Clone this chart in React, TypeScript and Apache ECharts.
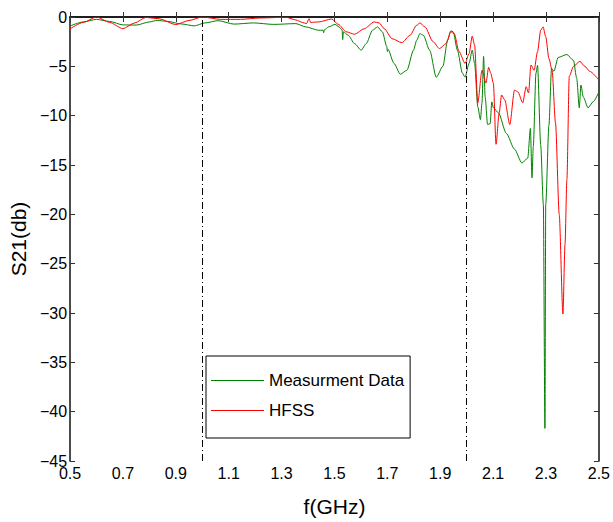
import React, { useEffect, useRef } from "react";
import * as echarts from "echarts";

const measFreq = [
  0.5, 0.55, 0.6, 0.65, 0.7, 0.75, 0.8, 0.83, 0.87, 0.92, 0.97, 1.01, 1.06, 1.12, 1.194, 1.27, 1.354, 1.391, 1.44,
  1.457, 1.459, 1.462, 1.478, 1.502, 1.517, 1.529, 1.531, 1.534, 1.552, 1.576, 1.601, 1.62, 1.644, 1.663, 1.681, 1.698,
  1.7, 1.703, 1.725, 1.749, 1.774, 1.799, 1.811, 1.823, 1.836, 1.86, 1.885, 1.91, 1.928, 1.94, 1.949, 1.965, 1.984,
  1.994, 2.009, 2.021, 2.03, 2.042, 2.052, 2.058, 2.064, 2.07, 2.079, 2.089, 2.095, 2.101, 2.12, 2.15, 2.181, 2.209,
  2.231, 2.241, 2.247, 2.252, 2.262, 2.268, 2.28, 2.29, 2.296, 2.299, 2.311, 2.321, 2.33, 2.346, 2.379, 2.404, 2.416,
  2.426, 2.432, 2.441, 2.459, 2.478, 2.5,
];
const measDb = [
  -0.91, -0.5, -0.24, -0.45, -0.8, -0.82, -0.5, -0.34, -0.45, -0.7, -0.9, -0.6, -0.37, -0.72, -0.6, -0.75, -0.67, -1.0, -1.34,
  -1.34, -1.6, -1.3, -1.0, -0.74, -1.0, -1.3, -2.3, -1.5, -1.85, -2.7, -3.36, -2.7, -1.34, -1.0, -1.5, -3.0,
  -3.5, -3.3, -4.7, -5.8, -5.4, -3.36, -2.35, -1.68, -1.85, -3.36, -6.1, -5.0, -2.35, -1.4, -1.5, -3.36, -5.7,
  -6.1, -4.7, -3.36, -4.7, -9.1, -10.4, -8.7, -4.0, -8.1, -10.9, -10.8, -8.6, -9.2, -9.7, -11.8, -13.4, -14.8,
  -14.3, -11.3, -16.3, -13.1, -5.7, -4.9, -13, -19, -41.7, -19, -11, -5.2, -5.5, -4.1, -3.8, -4.4, -6.2,
  -9.2, -6.9, -8.1, -9.2, -8.6, -7.6,
];

const hfssFreq = [
  0.5, 0.55, 0.6, 0.65, 0.7, 0.745, 0.786, 0.836, 0.9, 0.95, 1.0, 1.07, 1.144, 1.22, 1.317, 1.354, 1.379, 1.394, 1.404,
  1.41, 1.44, 1.49, 1.514, 1.545, 1.576, 1.613, 1.65, 1.669, 1.688, 1.718, 1.755, 1.786, 1.811, 1.823, 1.842, 1.873,
  1.897, 1.922, 1.94, 1.953, 1.971, 1.994, 2.009, 2.021, 2.03, 2.042, 2.058, 2.073, 2.083, 2.091, 2.101, 2.111, 2.123,
  2.132, 2.144, 2.163, 2.181, 2.194, 2.212, 2.225, 2.234, 2.243, 2.255, 2.268, 2.28, 2.289, 2.299, 2.311, 2.323, 2.336,
  2.35, 2.364, 2.372, 2.379, 2.388, 2.404, 2.428, 2.447, 2.465, 2.5,
];
const hfssDb = [
  -1.2, -0.55, 0, -0.55, -1.18, -0.6, -0.05, -0.17, -0.77, -0.35, 0, -0.24, -0.24, -0.1, -0.03, -0.3, -0.55, -0.67, -0.17,
  -0.55, -0.5, -0.2, -0.74, -1.5, -1.75, -1.18, -0.5, -0.6, -1.18, -2.2, -2.6, -1.85, -0.84, -0.6, -1.0, -2.5,
  -3.2, -2.7, -1.5, -1.68, -3.5, -4.7, -3.7, -1.95, -2.85, -8.7, -5.4, -6.7, -5.1, -5.7, -6.7, -12.9, -9.7,
  -7.9, -8.4, -10.9, -7.4, -7.6, -8.7, -7.06, -7.7, -4.87, -5.4, -3.5, -1.34, -1.0, -2.0, -4.2, -5.4, -10.75,
  -20, -30.1, -23, -16.5, -6.0, -5.0, -4.5, -5.0, -5.5, -6.4,
];

const bandEdges = [1.0, 2.0];
const seriesNames = ["Measurment Data", "HFSS"];

const FONT = "'Liberation Sans', Arial, Helvetica, sans-serif";

export default function App() {
  const ref = useRef<HTMLDivElement>(null);
  useEffect(() => {
    if (!ref.current) return;
    const chart = echarts.init(ref.current, null, { renderer: "svg" });
    const zip = (xs: number[], ys: number[]) => xs.map((x, i) => [x, ys[i]]);
    const axisLine = { show: true, lineStyle: { color: "#111", width: 1.5 } };
    const ticks = { show: true, inside: true, length: 5, lineStyle: { color: "#333", width: 1 } };
    chart.setOption({
      animation: false,
      backgroundColor: "#fff",
      textStyle: { fontFamily: FONT },
      grid: { left: 63, right: 12, top: 17, bottom: 59, containLabel: false },
      legend: {
        orient: "vertical",
        left: 206,
        top: 356,
        data: seriesNames,
        icon: "rect",
        itemWidth: 53,
        itemHeight: 1.2,
        itemGap: 13,
        padding: [16, 6, 19, 5],
        borderColor: "#000",
        borderWidth: 1,
        backgroundColor: "#fff",
        textStyle: { fontFamily: FONT, fontSize: 17, color: "#000" },
      },
      xAxis: [
        {
          type: "value",
          min: 0.5,
          max: 2.5,
          interval: 0.2,
          axisLine,
          axisTick: ticks,
          splitLine: { show: false },
          axisLabel: {
            color: "#000",
            fontSize: 16,
            fontFamily: FONT,
            margin: 4,
            formatter: (v: number) => v.toFixed(1),
          },
          name: "f(GHz)",
          nameLocation: "middle",
          nameGap: 35,
          nameTextStyle: { color: "#000", fontSize: 21, fontFamily: FONT },
        },
        {
          type: "value",
          position: "top",
          min: 0.5,
          max: 2.5,
          interval: 0.2,
          axisLine,
          axisTick: ticks,
          axisLabel: { show: false },
          splitLine: { show: false },
        },
      ],
      yAxis: [
        {
          type: "value",
          min: -45,
          max: 0,
          interval: 5,
          axisLine,
          axisTick: ticks,
          splitLine: { show: false },
          axisLabel: {
            color: "#000",
            fontSize: 16,
            fontFamily: FONT,
            margin: 3,
            formatter: (v: number) => String(v).replace("-", "\u2212"),
          },
          name: "S21(db)",
          nameLocation: "middle",
          nameGap: 35,
          nameRotate: 90,
          nameTextStyle: { color: "#000", fontSize: 21, fontFamily: FONT },
        },
        {
          type: "value",
          position: "right",
          min: -45,
          max: 0,
          interval: 5,
          axisLine,
          axisTick: ticks,
          axisLabel: { show: false },
          splitLine: { show: false },
        },
      ],
      series: [
        {
          name: seriesNames[0],
          type: "line",
          data: zip(measFreq, measDb),
          showSymbol: false,
          symbol: "none",
          smooth: 0.25,
          smoothMonotone: "x",
          lineStyle: { color: "#008000", width: 1 },
          itemStyle: { color: "#008000" },
          z: 3,
          markLine: {
            silent: true,
            symbol: "none",
            label: { show: false },
            lineStyle: { color: "#000", width: 1, type: [7, 3, 1, 3] },
            data: bandEdges.map((x) => ({ xAxis: x })),
          },
        },
        {
          name: seriesNames[1],
          type: "line",
          data: zip(hfssFreq, hfssDb),
          showSymbol: false,
          symbol: "none",
          smooth: 0.25,
          smoothMonotone: "x",
          lineStyle: { color: "#ff0000", width: 1 },
          itemStyle: { color: "#ff0000" },
          z: 4,
        },
      ],
    });
    return () => chart.dispose();
  }, []);
  return (
    <div
      ref={ref}
      style={{ position: "fixed", left: 0, top: 0, width: 613, height: 522, background: "#fff" }}
    />
  );
}
